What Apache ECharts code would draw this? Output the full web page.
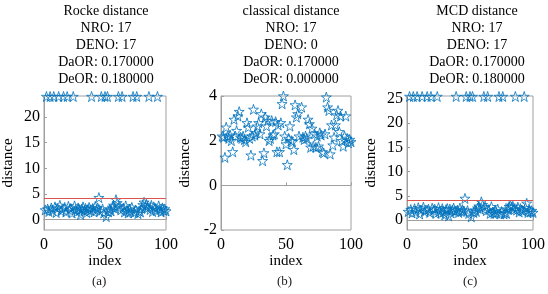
<!DOCTYPE html>
<html>
<head>
<meta charset="utf-8">
<script src="https://cdn.jsdelivr.net/npm/echarts@6/dist/echarts.min.js"></script>
<style>
  html, body { margin: 0; padding: 0; background: #fff; }
  #chart { width: 548px; height: 294px; }
</style>
</head>
<body>
<div id="chart"></div>
<script>
// distances per observation (index 1..100)
const rockeDist = [
  1.9, 24, 2.1, 1.6, 24, 2.3, 1.8, 24, 2.5, 1.4,
  2.2, 24, 2.8, 1.7, 2.0, 24, 2.4, 1.5, 24, 2.6,
  1.9, 2.2, 1.3, 24, 2.7, 2.0, 1.6, 2.3, 1.8, 1.0,
  2.1, 2.5, 1.7, 2.2, 1.4, 2.0, 2.4, 1.8, 24, 2.2,
  1.5, 2.6, 1.9, 2.3, 4.3, 1.7, 24, 2.1, 1.3, 24,
  0.6, 24, 1.5, 2.0, 1.7, 2.4, 2.8, 2.2, 3.9, 3.3,
  24, 2.6, 1.9, 24, 2.3, 1.5, 2.7, 1.8, 1.3, 2.1,
  1.6, 2.4, 24, 1.4, 1.9, 24, 1.2, 1.7, 1.5, 2.2,
  2.9, 3.4, 2.6, 3.0, 2.3, 24, 2.0, 2.8, 1.6, 2.5,
  2.2, 1.8, 24, 2.7, 2.0, 1.5, 2.3, 1.8, 2.1, 1.7
];
const classicalDist = [
  2.2, 2.15, 1.25, 2.6, 2.2, 2.1, 2.25, 2.0, 1.5, 2.95,
  2.2, 2.45, 3.1, 3.3, 2.15, 2.1, 2.2, 2.05, 1.95, 2.8,
  2.6, 2.1, 1.35, 2.2, 3.4, 2.25, 2.35, 2.65, 2.8, 2.3,
  3.2, 1.1, 1.45, 3.05, 2.65, 2.9, 2.0, 2.1, 2.9, 2.25,
  2.3, 2.85, 1.5, 2.7, 1.5, 2.8, 3.65, 4.0, 2.2, 1.85,
  0.92, 2.1, 2.65, 2.0, 1.95, 1.6, 3.6, 3.05, 3.2, 2.2,
  4.02, 3.5, 2.15, 2.05, 2.2, 2.1, 2.95, 2.75, 1.7, 2.55,
  1.75, 2.3, 1.7, 2.2, 1.75, 2.35, 2.25, 1.5, 1.45, 2.3,
  3.95, 3.5, 3.35, 1.4, 2.7, 1.8, 2.15, 2.7, 3.15, 3.35,
  2.4, 3.1, 2.0, 1.75, 2.2, 3.1, 2.1, 1.9, 2.05, 1.95
];
const mcdDist = [
  1.8, 25.5, 2.2, 1.5, 25.5, 2.4, 1.7, 25.5, 2.6, 1.3,
  2.1, 25.5, 2.7, 1.8, 2.1, 25.5, 2.3, 1.6, 25.5, 2.5,
  2.0, 2.3, 1.4, 25.5, 2.6, 1.9, 1.5, 2.4, 1.7, 1.1,
  2.2, 2.4, 0.9, 2.3, 1.5, 2.1, 2.5, 1.9, 25.5, 2.1,
  1.6, 2.5, 1.8, 2.2, 1.9, 4.5, 25.5, 2.0, 1.4, 25.5,
  0.7, 25.5, 1.6, 2.1, 1.8, 2.5, 2.9, 2.3, 3.8, 3.2,
  25.5, 2.7, 2.0, 25.5, 2.2, 1.4, 2.8, 1.7, 1.4, 2.0,
  1.5, 2.3, 25.5, 1.3, 1.8, 25.5, 1.3, 1.6, 1.4, 2.3,
  2.8, 3.1, 2.7, 2.9, 2.2, 25.5, 2.1, 2.7, 1.7, 2.4,
  2.1, 1.9, 25.5, 2.6, 3.5, 1.6, 2.2, 1.7, 2.0, 1.6
];

const titles = [
  "Rocke distance\nNRO: 17\nDENO: 17\nDaOR: 0.170000\nDeOR: 0.180000",
  "classical distance\nNRO: 17\nDENO: 0\nDaOR: 0.170000\nDeOR: 0.000000",
  "MCD distance\nNRO: 17\nDENO: 17\nDaOR: 0.170000\nDeOR: 0.180000"
];
const subLabels = ["(a)", "(b)", "(c)"];
const xTicks = [0, 50, 100];
const yTicks = [[0, 5, 10, 15, 20], [-2, 0, 2, 4], [0, 5, 10, 15, 20, 25]];
const yRange = [[-2, 24.1], [-2, 4], [-2, 25.6]];
const cutoff = [4.1, null, 4.1];
const allDist = [rockeDist, classicalDist, mcdDist];

const serif = "Liberation Serif";
const blue = "#0072BD";
const star = "path://M50,2 L61.2,36.2 L97.5,36.2 L68.2,57.4 L79.4,91.6 L50,70.4 L20.6,91.6 L31.8,57.4 L2.5,36.2 L38.8,36.2 Z";
const lefts = [36, 221, 407];
const boxW = 130;

const chart = echarts.init(document.getElementById("chart"));

const grid = [], xAxis = [], yAxis = [], series = [], title = [], graphic = [];
allDist.forEach((dist, k) => {
  grid.push({
    left: lefts[k], top: 96, width: boxW, height: 134,
    show: true, borderColor: "#a0a0a0", borderWidth: 1, backgroundColor: "#fff"
  });
  xAxis.push({
    gridIndex: k, type: "value", min: 0, max: 100,
    name: "index", nameLocation: "middle", nameGap: 23,
    nameTextStyle: { fontFamily: serif, fontSize: 15, color: "#000" },
    axisLine: { lineStyle: { color: "#a0a0a0" } },
    axisTick: { inside: true, length: 3, customValues: xTicks, lineStyle: { color: "#a0a0a0" } },
    axisLabel: { customValues: xTicks, margin: 7, fontFamily: serif, fontSize: 16, color: "#000" },
    splitLine: { show: false }
  });
  yAxis.push({
    gridIndex: k, type: "value", min: yRange[k][0], max: yRange[k][1],
    name: "distance", nameLocation: "middle", nameGap: 28, nameRotate: 90,
    nameTextStyle: { fontFamily: serif, fontSize: 15, color: "#000" },
    axisLine: { show: true, lineStyle: { color: "#a0a0a0" } },
    axisTick: { show: true, inside: true, length: 3, customValues: yTicks[k], lineStyle: { color: "#a0a0a0" } },
    axisLabel: { customValues: yTicks[k], margin: 4, fontFamily: serif, fontSize: 16, color: "#000" },
    splitLine: { show: false }
  });
  const s = {
    type: "scatter", xAxisIndex: k, yAxisIndex: k,
    data: dist.map((v, i) => [i + 1, v]),
    symbol: star, symbolSize: 10,
    itemStyle: { color: "rgba(255,255,255,0)", borderColor: blue, borderWidth: 1 },
    silent: true
  };
  if (cutoff[k] !== null) {
    s.markLine = {
      silent: true, symbol: "none", label: { show: false },
      lineStyle: { color: "#d9534f", width: 1, type: "solid" },
      data: [{ yAxis: cutoff[k] }]
    };
  }
  series.push(s);
  title.push({
    text: titles[k], left: lefts[k] + boxW / 2, top: -2, textAlign: "center",
    textStyle: { fontFamily: serif, fontSize: 14, fontWeight: "normal", lineHeight: 17, color: "#000" }
  });
  graphic.push({
    type: "text", left: lefts[k] + boxW / 2 - 9, top: 275,
    style: { text: subLabels[k], font: "13px " + serif, fill: "#222" }
  });
});

chart.setOption({
  animation: false,
  title, grid, xAxis, yAxis, series, graphic
});
</script>
</body>
</html>
